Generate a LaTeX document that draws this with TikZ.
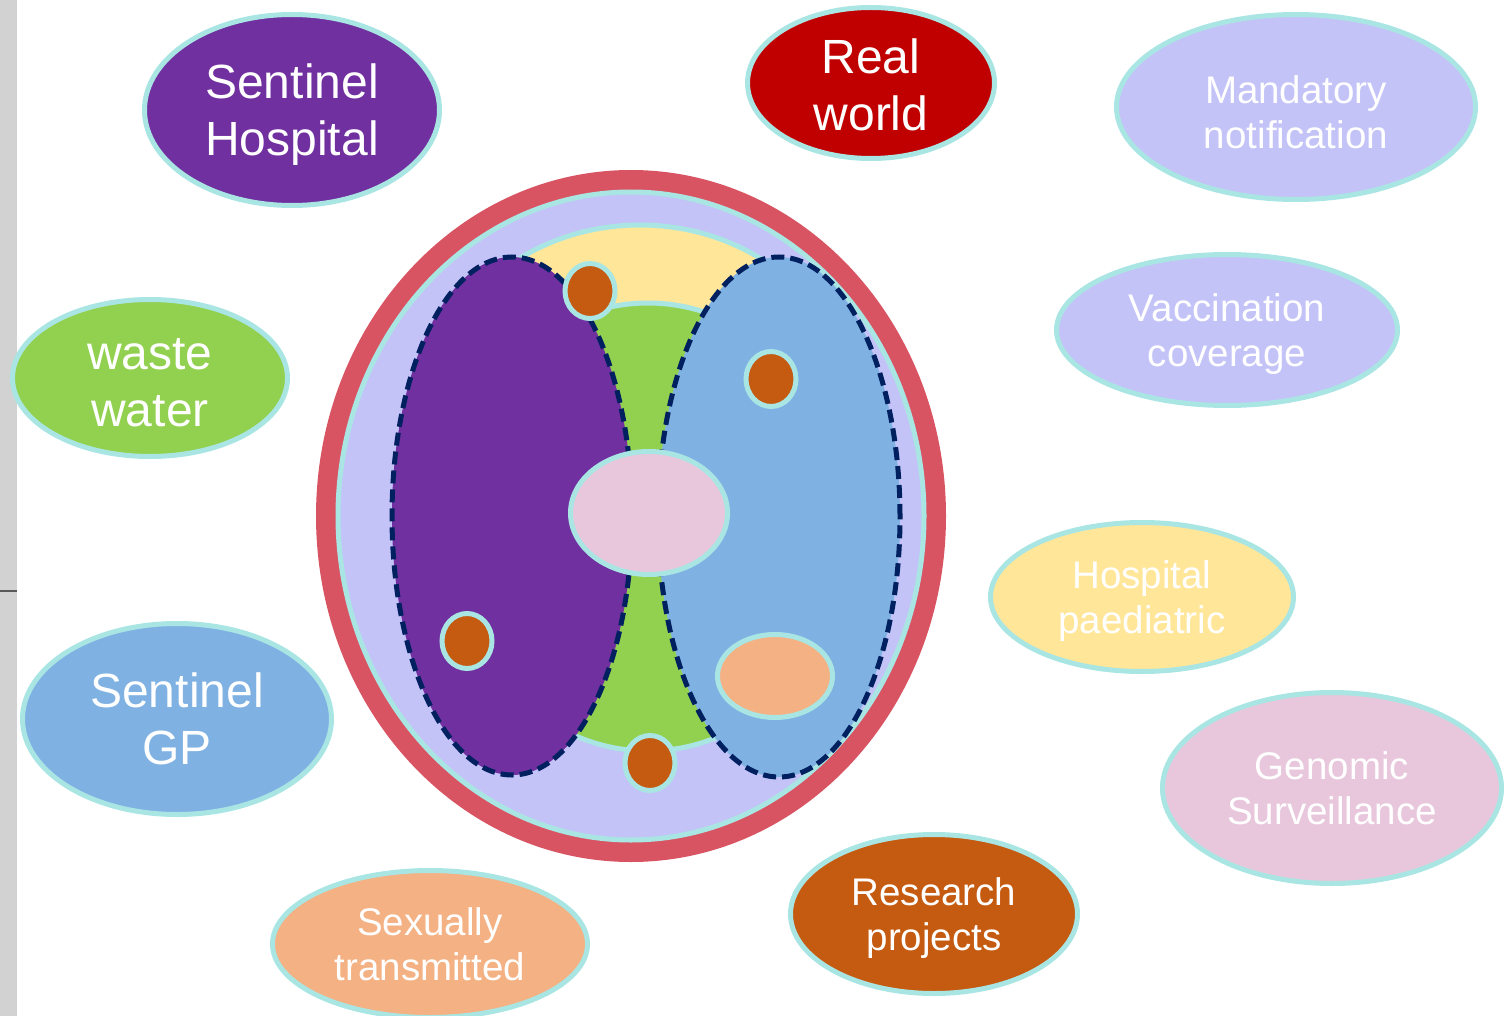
\documentclass[tikz,border=0pt]{standalone}
\usepackage{fontspec}
\setmainfont{Liberation Sans}
\usetikzlibrary{shapes.geometric}

\definecolor{borde}{HTML}{A9E6E3}
\definecolor{morado}{HTML}{7030A0}
\definecolor{rojo}{HTML}{C00000}
\definecolor{lavanda}{HTML}{C3C3F8}
\definecolor{verde}{HTML}{92D050}
\definecolor{amarillo}{HTML}{FFE699}
\definecolor{azul}{HTML}{7FB2E3}
\definecolor{rosa}{HTML}{E8C7DC}
\definecolor{marron}{HTML}{C55A11}
\definecolor{salmon}{HTML}{F4B183}
\definecolor{anillo}{HTML}{D95462}
\definecolor{marino}{HTML}{002060}
\definecolor{franja}{HTML}{D2D2D2}

\begin{document}
\begin{tikzpicture}[x=1pt, y=-1pt,
    burbuja/.style={ellipse, draw=borde, line width=5pt, text=white, align=center, inner sep=0pt, text depth=0pt},
    grande/.style={font=\fontsize{48}{57}\selectfont},
    chica/.style={font=\fontsize{38.5}{45}\selectfont},
    zona/.style={ellipse, draw=marino, line width=5pt, dash pattern=on 13pt off 6pt, inner sep=0pt},
    punto/.style={burbuja, fill=marron, minimum width=50, minimum height=55}]
        \useasboundingbox (0,0) rectangle (1504,1016);

        % Franja gris a la izquierda
        \fill[franja] (0,0) rectangle (17,1016);
        \draw[gray!70!black, line width=2.5pt] (0,591) -- (17,591);

        % Circulo central
        \node[ellipse, draw=anillo, line width=20pt, minimum width=610, minimum height=672] (anillo) at (631,516) {};
        \node[burbuja, fill=lavanda, minimum width=586, minimum height=648] (mundo) at (631,516) {};
        \node[burbuja, fill=amarillo, minimum width=430, minimum height=390] (capa1) at (640,420) {};
        \node[burbuja, fill=verde, minimum width=400, minimum height=448] (capa2) at (648,527) {};

        % Zonas con borde discontinuo
        \node[zona, fill=morado, minimum width=240, minimum height=518] (izq) at (512,516) {};
        \node[zona, fill=azul, minimum width=242, minimum height=520] (der) at (779,517) {};

        % Elipses pequenas dentro
        \node[burbuja, fill=rosa, minimum width=157, minimum height=123] (centro) at (649,513) {};
        \node[burbuja, fill=salmon, minimum width=115, minimum height=83] (abajo) at (775,676) {};

        % Puntos
        \node[punto] (p1) at (590,291) {};
        \node[punto] (p2) at (771,379) {};
        \node[punto] (p3) at (467,641) {};
        \node[punto] (p4) at (650,763) {};

        % Burbujas de alrededor
        \node[burbuja, grande, fill=morado, minimum width=295, minimum height=191] (hospital) at (292,110) {Sentinel\\Hospital};
        \node[burbuja, grande, fill=rojo, minimum width=247, minimum height=151, text height=96pt] (real) at (871,83) {Real\\world};
        \node[burbuja, chica, fill=lavanda, minimum width=359, minimum height=185, text height=83pt] (notif) at (1296,107) {Mandatory\\notification};
        \node[burbuja, chica, fill=lavanda, minimum width=341, minimum height=151] (vacunas) at (1227,330) {Vaccination\\coverage};
        \node[burbuja, grande, fill=verde, minimum width=275, minimum height=157, text height=96pt] (aguas) at (150,378) {waste\\water};
        \node[burbuja, chica, fill=amarillo, minimum width=303, minimum height=149] (pediatria) at (1142,597) {Hospital\\paediatric};
        \node[burbuja, grande, fill=azul, minimum width=309, minimum height=191] (gp) at (177,719) {Sentinel\\GP};
        \node[burbuja, chica, fill=rosa, minimum width=339, minimum height=191] (genomica) at (1332,788) {Genomic\\Surveillance};
        \node[burbuja, chica, fill=marron, minimum width=287, minimum height=159] (investigacion) at (934,914) {Research\\projects};
        \node[burbuja, chica, fill=salmon, minimum width=315, minimum height=147] (sexual) at (430,944) {Sexually\\transmitted};

    \end{tikzpicture}
\end{document}
